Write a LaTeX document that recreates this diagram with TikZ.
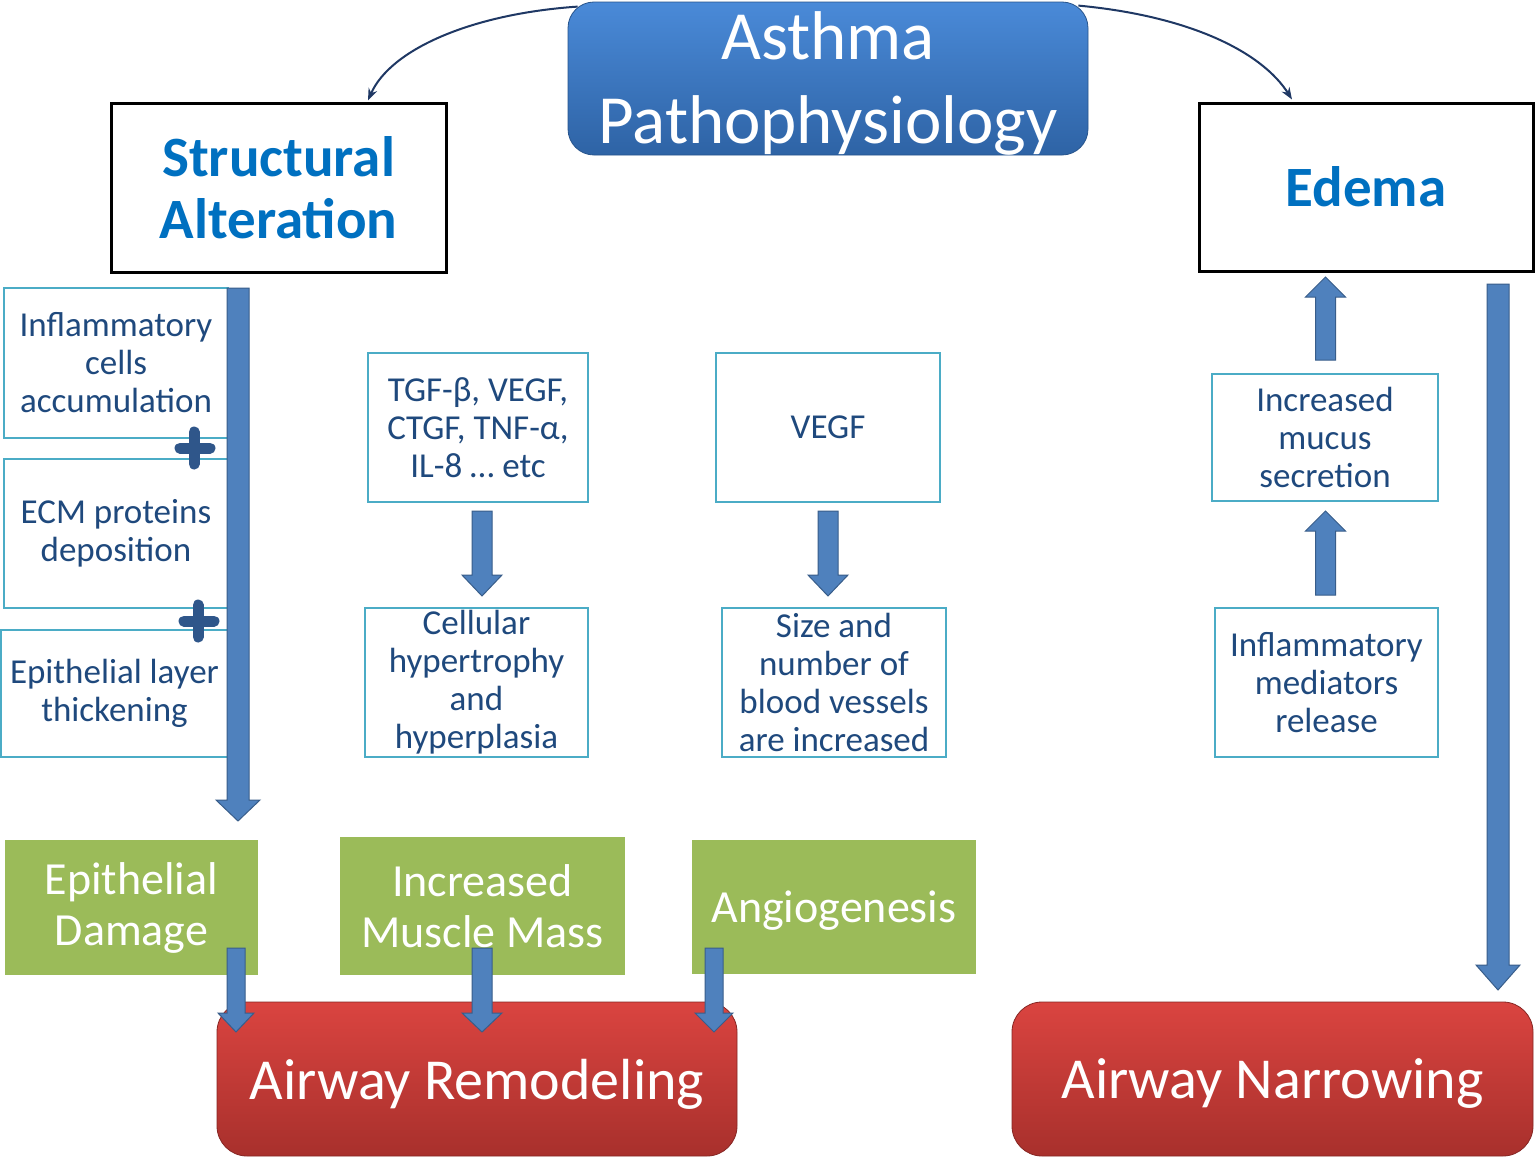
\documentclass[tikz,border=0pt]{standalone}
\usepackage{fontspec}
\setmainfont{Carlito}
\usetikzlibrary{arrows.meta,calc}
\definecolor{txtblue}{RGB}{31,73,125}
\definecolor{boxcyan}{RGB}{75,172,198}
\definecolor{headblue}{RGB}{0,112,192}
\definecolor{arrfill}{RGB}{79,129,189}
\definecolor{arrdraw}{RGB}{56,93,138}
\definecolor{plusblue}{RGB}{47,86,138}
\definecolor{navy}{RGB}{31,56,100}
\definecolor{greenbox}{RGB}{155,187,89}
\definecolor{titletop}{RGB}{74,138,216}
\definecolor{titlebot}{RGB}{46,99,165}
\definecolor{redtop}{RGB}{218,68,64}
\definecolor{redbot}{RGB}{168,48,44}
\tikzset{
  smallbox/.style={draw=boxcyan, line width=1.5pt, fill=white, text=txtblue, align=center, inner sep=0pt, font=\fontsize{35}{38}\selectfont},
  headbox/.style={draw=black, line width=3pt, fill=white, text=headblue, align=center, inner sep=0pt, font=\fontsize{57}{62}\selectfont\bfseries},
  greenstyle/.style={fill=greenbox, text=white, align=center, inner sep=0pt, font=\fontsize{46}{51}\selectfont},
  redstyle/.style={rounded corners=30pt, top color=redtop, bottom color=redbot, draw=redbot!80!black, line width=0.8pt, inner sep=0pt},
  redtext/.style={text=white, align=center, inner sep=0pt, font=\fontsize{58}{70}\selectfont},
  titlestyle/.style={rounded corners=26pt, top color=titletop, bottom color=titlebot, draw=titlebot!85!black, line width=0.8pt, inner sep=0pt},
  titletext/.style={text=white, align=center, inner sep=0pt, font=\fontsize{69}{84}\selectfont},
  plaintext/.style={text=white, align=center, inner sep=0pt, font=\fontsize{46}{51}\selectfont},
  barrow/.style={fill=arrfill, draw=arrdraw, line width=1pt, line join=miter},
  curvearrow/.style={draw=navy, line width=2pt, -{Stealth[length=12pt,width=9pt]}},
  plussign/.style={draw=plusblue, line width=11pt, line cap=round}
}
% x, y tail, y head base, y tip, shaft half width, head half width
\newcommand{\blockarrowV}[6]{\draw[barrow] ({#1-#5},#2) -- ({#1+#5},#2) -- ({#1+#5},#3) -- ({#1+#6},#3) -- (#1,#4) -- ({#1-#6},#3) -- ({#1-#5},#3) -- cycle;}
\begin{document}
\begin{tikzpicture}[x=1pt,y=-1pt]
\useasboundingbox[fill=white] (0,0) rectangle (1535,1159);

% title
\node[titlestyle, minimum width=520pt, minimum height=153pt] (title) at (828,78.5) {};
\node[titletext] (titlet) at ([yshift=-5pt]title.center) {Asthma\\Pathophysiology};

% headings
\node[headbox, minimum width=335pt, minimum height=169pt] (struct) at (278.5,187.5) {Structural\\Alteration};
\node[headbox, minimum width=334pt, minimum height=168pt] (edema) at (1366,187) {Edema};

% curved arrows
\draw[curvearrow] ([xshift=10pt,yshift=-5pt]title.north west) .. controls (470,14) and (390,50) .. ([xshift=89.5pt,yshift=1pt]struct.north);
\draw[curvearrow] ([xshift=-10pt,yshift=-4pt]title.north east) .. controls (1190,16) and (1262,52) .. ([xshift=-74pt,yshift=2pt]edema.north);

% left column
\node[smallbox, minimum width=224pt, minimum height=150pt] (infl) at (116,363) {Inflammatory\\cells\\accumulation};
\node[smallbox, minimum width=224pt, minimum height=149pt] (ecm) at (116,533.5) {ECM proteins\\deposition};
\node[smallbox, minimum width=227pt, minimum height=127pt] (epi) at (114.5,693.5) {Epithelial layer\\thickening};

% middle columns
\node[smallbox, minimum width=220pt, minimum height=149pt] (tgf) at (478,427.5) {TGF-β, VEGF,\\CTGF, TNF-α,\\IL-8 … etc};
\node[smallbox, minimum width=223pt, minimum height=149pt] (cell) at (476.5,682.5) {Cellular\\hypertrophy\\and\\hyperplasia};
\node[smallbox, minimum width=224pt, minimum height=149pt] (vegf) at (828,427.5) {VEGF};
\node[smallbox, minimum width=224pt, minimum height=149pt] (size) at (834,682.5) {Size and\\number of\\blood vessels\\are increased};

% right column
\node[smallbox, minimum width=226pt, minimum height=127pt] (mucus) at (1325,437.5) {Increased\\mucus\\secretion};
\node[smallbox, minimum width=223pt, minimum height=149pt] (medi) at (1326.5,682.5) {Inflammatory\\mediators\\release};

% green boxes
\node[greenstyle, minimum width=253pt, minimum height=135pt] (epd) at (131.5,907.5) {Epithelial\\Damage};
\node[greenstyle, minimum width=285pt, minimum height=138pt] (imm) at (482.5,906) {Increased\\Muscle Mass};
\node[greenstyle, minimum width=284pt, minimum height=134pt] (ang) at (834,907) {};
\node[plaintext] (angt) at ([yshift=-4pt]ang.center) {Angiogenesis};

% red boxes
\node[redstyle, minimum width=520pt, minimum height=154pt] (arem) at (477,1079) {};
\node[redtext] (aremt) at ([yshift=-5pt]arem.center) {Airway Remodeling};
\node[redstyle, minimum width=521pt, minimum height=154pt] (anar) at (1272.5,1079) {};
\node[redtext] (anart) at ([yshift=-5pt]anar.center) {Airway Narrowing};

% plus signs
\draw[plussign] (180,448) -- (210,448) (194,432) -- (194,464);
\draw[plussign] (184,621) -- (214,621) (198,605) -- (198,637);

% block arrows
\blockarrowV{238}{288}{800}{821}{11}{22}
\blockarrowV{482}{511}{575}{596}{10}{20}
\blockarrowV{828}{511}{575}{596}{10}{20}
\blockarrowV{1325.5}{360}{297}{277}{10}{20}
\blockarrowV{1325.5}{595}{531}{511}{10}{20}
\blockarrowV{1498}{284}{965}{990}{11}{22}
\blockarrowV{236}{948}{1013}{1032}{9}{18}
\blockarrowV{482}{948}{1013}{1032}{10}{20}
\blockarrowV{714}{948}{1013}{1032}{9}{19}
\end{tikzpicture}
\end{document}
